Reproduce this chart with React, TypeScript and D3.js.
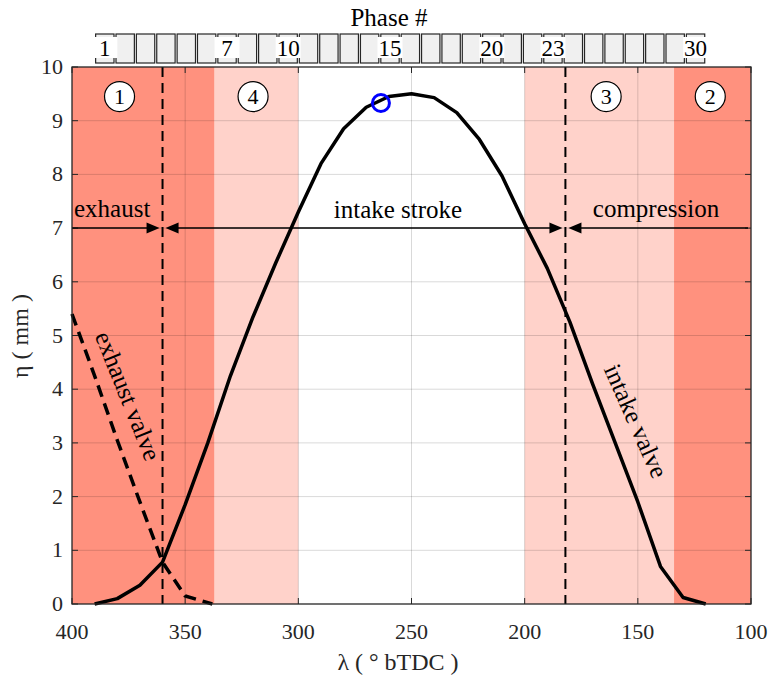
import React from 'react';
import * as d3 from 'd3';

const intakeAngle = [390, 380, 370, 360, 350, 340, 330, 320, 310, 300, 290, 280, 270, 260, 250, 240, 230, 220, 210, 200, 190, 180, 170, 160, 150, 140, 130, 120];
const intakeLift = [0, 0.1, 0.35, 0.78, 1.85, 3.0, 4.25, 5.35, 6.35, 7.3, 8.2, 8.85, 9.25, 9.45, 9.5, 9.43, 9.15, 8.65, 7.97, 7.08, 6.25, 5.25, 4.1, 3.0, 1.9, 0.7, 0.12, 0];
const exhaustAngle = [400, 390, 380, 370, 360, 350, 338];
const exhaustLift = [5.4, 4.25, 3.05, 1.9, 0.78, 0.15, 0];
const xTicks = [400, 350, 300, 250, 200, 150, 100];
const yTicks = [0, 1, 2, 3, 4, 5, 6, 7, 8, 9, 10];
const regionFrom = [400, 337, 200, 134];
const regionTo = [337, 300, 134, 100];
const regionShade = ['dark', 'light', 'light', 'dark'];
const dividerAngles = [360, 182];
const zoneLabels = ['1', '4', '3', '2'];
const zoneLabelAngle = [379, 320, 164, 118];
const zoneLabelLift = 9.45;
const phaseCount = 30;
const phaseStartAngle = 390;
const phaseStep = 9;
const phaseLabels = [1, 7, 10, 15, 20, 23, 30];
const markerAngle = 263.5;
const markerLift = 9.33;

const FONT = '"Liberation Serif", "Times New Roman", serif';

function Arrowhead({ tipX, tipY, dir }: { tipX: number; tipY: number; dir: number }) {
  const len = 13;
  const hw = 5.5;
  const bx = tipX - dir * len;
  return <polygon points={`${tipX},${tipY} ${bx},${tipY - hw} ${bx},${tipY + hw}`} fill="#000" />;
}

export default function App() {
  const W = 769;
  const H = 678;
  const x = d3.scaleLinear().domain([400, 100]).range([72, 751]);
  const y = d3.scaleLinear().domain([0, 10]).range([604, 67]);

  const line = d3
    .line<[number, number]>()
    .x((d) => x(d[0]))
    .y((d) => y(d[1]));

  const intakePath = line(intakeAngle.map((a, i) => [a, intakeLift[i]]) as [number, number][]) || '';
  const exhaustPath = line(exhaustAngle.map((a, i) => [a, exhaustLift[i]]) as [number, number][]) || '';

  const shadeColor: Record<string, string> = { dark: '#FF917E', light: '#FFD2CA' };
  const x0 = x(400);
  const x1 = x(100);
  const yTop = y(10);
  const yBot = y(0);
  const tickLen = 6;
  const axisColor = '#262626';
  const arrowY = y(7);

  const boxTop = 34;
  const boxBot = 63;

  return (
    <svg width={W} height={H} style={{ position: 'absolute', left: 0, top: 0, background: '#fff' }} fontFamily={FONT}>
      {regionFrom.map((f, i) => (
        <rect key={'r' + i} x={x(f)} y={yTop} width={x(regionTo[i]) - x(f)} height={yBot - yTop} fill={shadeColor[regionShade[i]]} />
      ))}
      {xTicks.slice(1, -1).map((t) => (
        <line key={'gx' + t} x1={x(t)} x2={x(t)} y1={yTop} y2={yBot} stroke="#000" strokeOpacity={0.15} strokeWidth={1} />
      ))}
      {yTicks.slice(1, -1).map((t) => (
        <line key={'gy' + t} x1={x0} x2={x1} y1={y(t)} y2={y(t)} stroke="#000" strokeOpacity={0.15} strokeWidth={1} />
      ))}
      {xTicks.map((t) => (
        <g key={'tx' + t}>
          <line x1={x(t)} x2={x(t)} y1={yBot} y2={yBot - tickLen} stroke={axisColor} strokeWidth={1} />
          <line x1={x(t)} x2={x(t)} y1={yTop} y2={yTop + tickLen} stroke={axisColor} strokeWidth={1} />
          <text x={x(t)} y={639} textAnchor="middle" fontSize={22} fill={axisColor}>
            {t}
          </text>
        </g>
      ))}
      {yTicks.map((t) => (
        <g key={'ty' + t}>
          <line x1={x0} x2={x0 + tickLen} y1={y(t)} y2={y(t)} stroke={axisColor} strokeWidth={1} />
          <line x1={x1} x2={x1 - tickLen} y1={y(t)} y2={y(t)} stroke={axisColor} strokeWidth={1} />
          <text x={63} y={y(t) + 7} textAnchor="end" fontSize={22} fill={axisColor}>
            {t}
          </text>
        </g>
      ))}
      {dividerAngles.map((a) => (
        <line key={'d' + a} x1={x(a)} x2={x(a)} y1={yTop} y2={yBot} stroke="#000" strokeWidth={2} strokeDasharray="10,6" />
      ))}
      <path d={exhaustPath} fill="none" stroke="#000" strokeWidth={3.5} strokeDasharray="12,7" />
      <path d={intakePath} fill="none" stroke="#000" strokeWidth={3.5} strokeLinejoin="round" />
      <circle cx={x(markerAngle)} cy={y(markerLift)} r={8.5} fill="none" stroke="#0000FF" strokeWidth={3} />
      <line x1={x(400)} x2={x(dividerAngles[0]) - 6} y1={arrowY} y2={arrowY} stroke="#000" strokeWidth={1.5} />
      <Arrowhead tipX={x(dividerAngles[0]) - 3} tipY={arrowY} dir={1} />
      <line x1={x(dividerAngles[0]) + 6} x2={x(dividerAngles[1]) - 6} y1={arrowY} y2={arrowY} stroke="#000" strokeWidth={1.5} />
      <Arrowhead tipX={x(dividerAngles[0]) + 3} tipY={arrowY} dir={-1} />
      <Arrowhead tipX={x(dividerAngles[1]) - 3} tipY={arrowY} dir={1} />
      <line x1={x(100) - 3} x2={x(dividerAngles[1]) + 6} y1={arrowY} y2={arrowY} stroke="#000" strokeWidth={1.5} />
      <Arrowhead tipX={x(dividerAngles[1]) + 3} tipY={arrowY} dir={-1} />
      <text x={74} y={217} fontSize={25} fill="#000">exhaust</text>
      <text x={398} y={218} fontSize={25} fill="#000" textAnchor="middle">intake stroke</text>
      <text x={656} y={217} fontSize={25} fill="#000" textAnchor="middle">compression</text>
      <text transform={`translate(128,396) rotate(68)`} fontSize={25} textAnchor="middle" dominantBaseline="central" fill="#000">
        exhaust valve
      </text>
      <text transform={`translate(636,421) rotate(66)`} fontSize={25} textAnchor="middle" dominantBaseline="central" fill="#000">
        intake valve
      </text>
      {zoneLabels.map((l, i) => (
        <g key={'z' + i}>
          <circle cx={x(zoneLabelAngle[i])} cy={y(zoneLabelLift)} r={15} fill="#fff" stroke="#000" strokeWidth={1.2} />
          <text x={x(zoneLabelAngle[i])} y={y(zoneLabelLift) + 7.5} fontSize={22} textAnchor="middle" fill="#000">
            {l}
          </text>
        </g>
      ))}
      <rect x={x0} y={yTop} width={x1 - x0} height={yBot - yTop} fill="none" stroke={axisColor} strokeWidth={1.3} />
      {d3.range(phaseCount).map((i) => {
        const a = x(phaseStartAngle - i * phaseStep);
        const b = x(phaseStartAngle - (i + 1) * phaseStep);
        return <rect key={'p' + i} x={a + 1} y={boxTop} width={b - a - 2} height={boxBot - boxTop} fill="#F0F0F0" stroke="#262626" strokeWidth={1.2} />;
      })}
      {phaseLabels.map((p) => {
        const c = x(phaseStartAngle - (p - 0.5) * phaseStep);
        return (
          <g key={'pl' + p}>
            <rect x={c - 12.5} y={boxTop + 3} width={25} height={boxBot - boxTop - 8} fill="#fff" />
            <text x={c} y={boxBot - 7} fontSize={23} textAnchor="middle" fill="#000">
              {p}
            </text>
          </g>
        );
      })}
      <text x={389} y={26} fontSize={25} textAnchor="middle" fill="#000">Phase #</text>
      <text x={398} y={670} fontSize={24} textAnchor="middle" fill={axisColor}>λ ( ° bTDC )</text>
      <text transform={`translate(28,336) rotate(-90)`} fontSize={24} textAnchor="middle" fill={axisColor}>η ( mm )</text>
    </svg>
  );
}
